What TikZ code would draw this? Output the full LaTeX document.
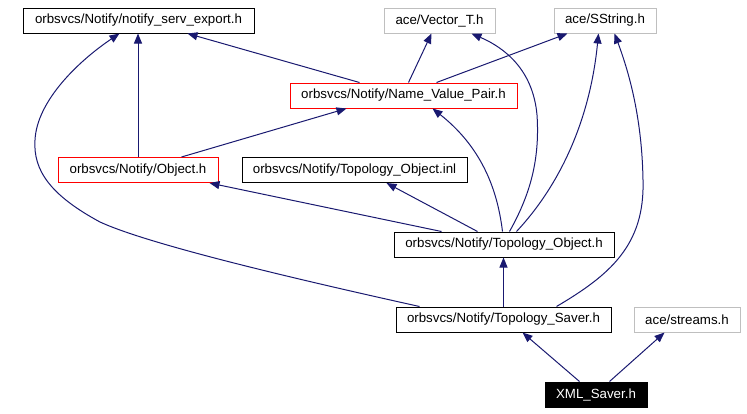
\documentclass[tikz,border=0pt]{standalone}
\usepackage{fontspec}
\setmainfont{Liberation Sans}
\usetikzlibrary{arrows.meta,calc}
\definecolor{edgec}{HTML}{191970}
\definecolor{grayb}{HTML}{BFBFBF}
\begin{document}
\begin{tikzpicture}[x=1pt,y=-1pt,
  box/.style={draw=black, line width=1pt, minimum height=25pt, inner sep=0pt,
    font=\fontsize{13.3}{16}\selectfont, anchor=center},
  redbox/.style={box, draw=red},
  graybox/.style={box, draw=grayb},
  blackbox/.style={box, fill=black, text=white},
  inc/.style={draw=edgec, line width=1pt, -{Triangle[length=10pt,width=8pt]}, fill=none}]
\useasboundingbox (0,0) rectangle (747,413);
\node[box, minimum width=231] (nse) at (138.5,20.5) {orbsvcs/Notify/notify\_serv\_export.h};
\node[graybox, minimum width=111] (vec) at (439.5,20.5) {ace/Vector\_T.h};
\node[graybox, minimum width=102] (sstr) at (605,20.5) {ace/SString.h};
\node[redbox, minimum width=227] (nvp) at (403.5,95.5) {orbsvcs/Notify/Name\_Value\_Pair.h};
\node[redbox, minimum width=160] (obj) at (138,170) {orbsvcs/Notify/Object.h};
\node[box, minimum width=225] (inl) at (354.5,170) {orbsvcs/Notify/Topology\_Object.inl};
\node[box, minimum width=220] (topo) at (504,244.5) {orbsvcs/Notify/Topology\_Object.h};
\node[box, minimum width=215] (saver) at (503.5,319.5) {orbsvcs/Notify/Topology\_Saver.h};
\node[graybox, minimum width=106] (strm) at (687,319.5) {ace/streams.h};
\node[blackbox, minimum width=102] (xml) at (596,394.5) {XML\_Saver.h};

\draw[inc] (obj.north) -- (obj.north |- nse.south);
\draw[inc] ($(nvp.north west)+(70,0)$) -- ($(nse.south west)+(165,0)$);
\draw[inc] ($(saver.north west)+(24,0)$) .. controls (300,280) and (150,245) .. (100,222)
   .. controls (50,195) and (33,170) .. (35,140)
   .. controls (37,100) and (80,60) .. ($(nse.south west)+(97,0)$);
\draw[inc] ($(nvp.north west)+(119,0)$) -- ($(vec.south west)+(48,0)$);
\draw[inc] ($(nvp.north west)+(147,0)$) -- ($(sstr.south west)+(14,0)$);
\draw[inc] ($(obj.north west)+(124,0)$) -- ($(nvp.south west)+(57,0)$);
\draw[inc] ($(topo.north west)+(109,0)$) .. controls (498,195) and (485,150) .. ($(nvp.south west)+(143,0)$);
\draw[inc] ($(topo.north west)+(116,0)$) .. controls (530,195) and (540,160) .. (537,115)
   .. controls (533,70) and (505,48) .. ($(vec.south west)+(88,0)$);
\draw[inc] ($(topo.north west)+(123,0)$) .. controls (560,185) and (590,120) .. ($(sstr.south west)+(45,0)$);
\draw[inc] ($(saver.north west)+(161,0)$) .. controls (610,275) and (645,245) .. (643,180)
   .. controls (642,120) and (630,75) .. ($(sstr.south west)+(61,0)$);
\draw[inc] ($(topo.north west)+(48,0)$) -- ($(obj.south west)+(152,0)$);
\draw[inc] ($(topo.north west)+(84,0)$) -- ($(inl.south west)+(145,0)$);
\draw[inc] (saver.north) -- (saver.north |- topo.south);
\draw[inc] ($(xml.north west)+(35,0)$) -- ($(saver.south west)+(127,0)$);
\draw[inc] ($(xml.north west)+(65,0)$) -- ($(strm.south west)+(31,0)$);
\end{tikzpicture}
\end{document}
